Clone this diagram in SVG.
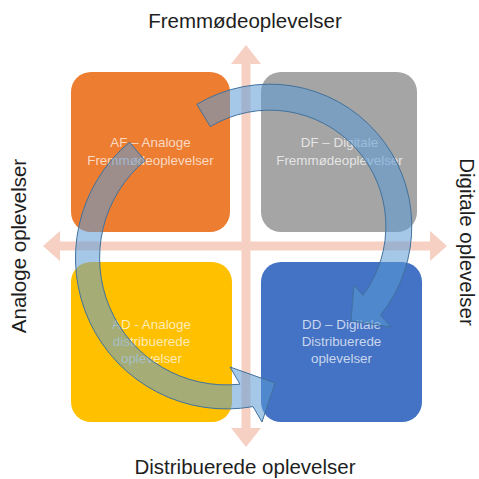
<svg xmlns="http://www.w3.org/2000/svg" width="479" height="479" viewBox="0 0 479 479">
<style>
.axis{font-family:"Liberation Sans",Arial,sans-serif;font-size:20.5px;fill:#1e1e1e;text-anchor:middle}
.lbl{font-family:"Liberation Sans",Arial,sans-serif;font-size:13.4px;fill:#fff;fill-opacity:0.72;text-anchor:middle}
.cross{fill:#F7D0C4}
.cyc{fill:#5B9BD5;fill-opacity:0.55;stroke:#41719C;stroke-width:1;stroke-linejoin:miter}
</style>
<rect width="479" height="479" fill="#fff"/>
<g id="axes-labels">
<text class="axis" x="245" y="28">Fremmødeoplevelser</text>
<text class="axis" x="245" y="474">Distribuerede oplevelser</text>
<text class="axis" transform="translate(26,246) rotate(-90)">Analoge oplevelser</text>
<text class="axis" transform="translate(460,242) rotate(90)">Digitale oplevelser</text>
</g>
<g id="connectors-cross">
<path class="cross" d="M246,45 L261,64 L250.5,64 L250.5,241.5 L430,241.5 L430,231 L447,246 L430,261 L430,250.5 L250.5,250.5 L250.5,428 L261,428 L246,447 L231,428 L241.5,428 L241.5,250.5 L60,250.5 L60,261 L43,246 L60,231 L60,241.5 L241.5,241.5 L241.5,64 L231,64 Z"/>
</g>
<g id="AF">
<rect x="71" y="72" width="159" height="160" rx="20" fill="#ED7D31"/>
<text class="lbl" x="150.5" y="147">AF – Analoge</text>
<text class="lbl" x="150.5" y="165">Fremmødeoplevelser</text>
</g>
<g id="DF">
<rect x="261" y="72" width="156" height="160" rx="20" fill="#A5A5A5"/>
<text class="lbl" x="339.5" y="147">DF – Digitale</text>
<text class="lbl" x="339.5" y="165">Fremmødeoplevelser</text>
</g>
<g id="AD">
<rect x="71" y="262" width="161" height="160" rx="20" fill="#FFC000"/>
<text class="lbl" x="151.5" y="329">AD - Analoge</text>
<text class="lbl" x="151.5" y="346">distribuerede</text>
<text class="lbl" x="151.5" y="363">oplevelser</text>
</g>
<g id="DD">
<rect x="261" y="262" width="161" height="160" rx="20" fill="#4472C4"/>
<text class="lbl" x="341.5" y="329">DD – Digitale</text>
<text class="lbl" x="341.5" y="346">Distribuerede</text>
<text class="lbl" x="341.5" y="363">oplevelser</text>
</g>
<g id="connectors-cycle">
<path class="cyc" d="M196.9,104.3 A142,142 0 0 1 380.5,315.1 L391,327 L351,321 L354,285 L363,295.3 A116,116 0 0 0 210.3,126.6 Z"/>
<path class="cyc" d="M129.5,142.2 A151,151 0 0 0 253,406.6 L262,422 L275,383 L230,367 L240,384.2 A127,127 0 0 1 145,160.6 Z"/>
</g>
</svg>
